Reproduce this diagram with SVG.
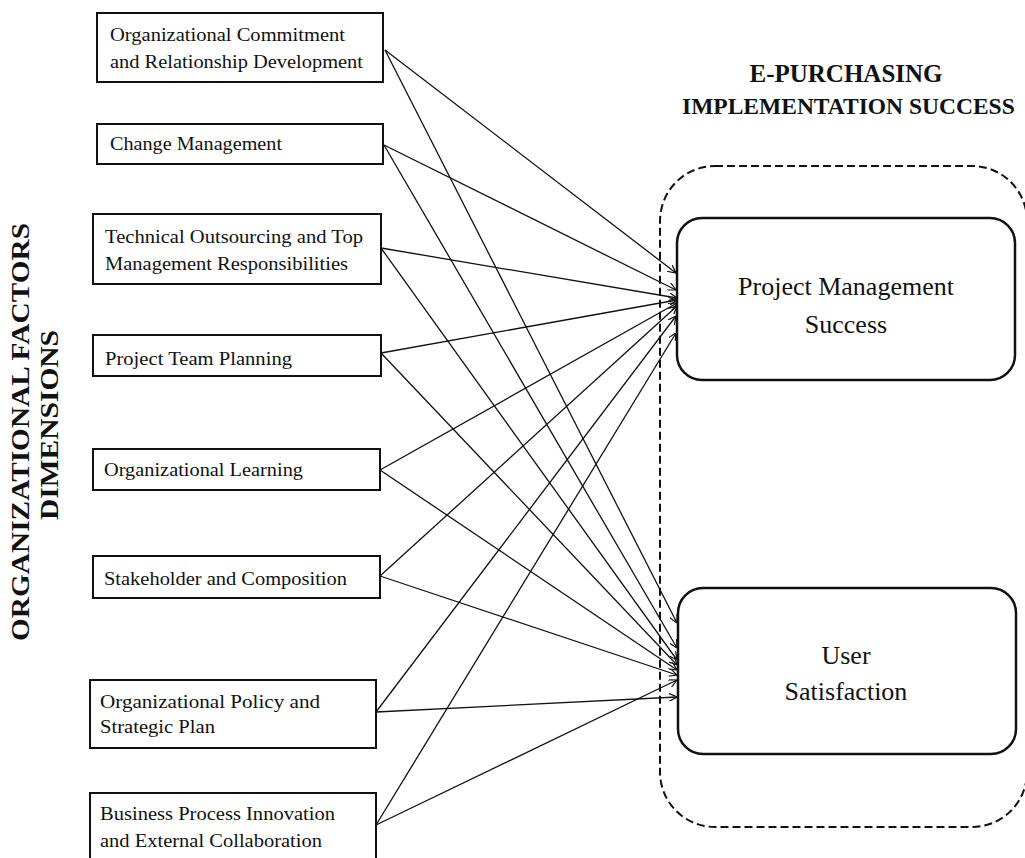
<svg xmlns="http://www.w3.org/2000/svg" width="1025" height="858" viewBox="0 0 1025 858">
  <style>
    .box { fill: #fff; stroke: #111; stroke-width: 2; }
    .lbl { font-family: "Liberation Serif", "Times New Roman", serif; font-size: 18px; fill: #111; }
    .big { font-family: "Liberation Serif", "Times New Roman", serif; font-size: 26px; fill: #111; }
    .head { font-family: "Liberation Serif", "Times New Roman", serif; font-size: 25px; font-weight: bold; fill: #111; }
    .head.tight { font-size: 23.5px; }
    .outcome { fill: #fff; stroke: #111; stroke-width: 2.5; }
    .frame { fill: none; stroke: #111; stroke-width: 2; stroke-dasharray: 8 4; }
    .link { stroke: #111; stroke-width: 1.3; fill: none; marker-end: url(#arrow); }
  </style>
  <defs>
    <marker id="arrow" viewBox="0 0 10 10" refX="10" refY="5" markerWidth="8" markerHeight="8" orient="auto" markerUnits="userSpaceOnUse">
      <path d="M0,0 L10,5 L0,10" fill="none" stroke="#111" stroke-width="1.5"/>
    </marker>
  </defs>
  <rect width="1025" height="858" fill="#fff"/>

  <!-- side headings -->
  <g id="title-left">
    <text class="head" transform="translate(29,432) rotate(-90)" text-anchor="middle" textLength="418" lengthAdjust="spacingAndGlyphs">ORGANIZATIONAL FACTORS</text>
    <text class="head" transform="translate(58,425) rotate(-90)" text-anchor="middle" textLength="190" lengthAdjust="spacingAndGlyphs">DIMENSIONS</text>
  </g>
  <g id="title-right">
    <text class="head" x="846" y="82" text-anchor="middle">E-PURCHASING</text>
    <text class="head tight" x="682" y="114">IMPLEMENTATION SUCCESS</text>
  </g>

  <!-- success container -->
  <g id="success-frame">
    <rect class="frame" x="660" y="166" width="367" height="661" rx="55" ry="55"/>
  </g>

  <!-- connectors -->
  <g id="connectors">
    <line class="link" x1="385" y1="50" x2="676" y2="273"/>
    <line class="link" x1="385" y1="50" x2="677" y2="623"/>
    <line class="link" x1="384" y1="145" x2="676" y2="290"/>
    <line class="link" x1="384" y1="145" x2="677" y2="648"/>
    <line class="link" x1="381" y1="248" x2="677" y2="298"/>
    <line class="link" x1="381" y1="248" x2="677" y2="660"/>
    <line class="link" x1="381" y1="353" x2="677" y2="300"/>
    <line class="link" x1="381" y1="353" x2="677" y2="665"/>
    <line class="link" x1="380" y1="470" x2="677" y2="303"/>
    <line class="link" x1="380" y1="470" x2="677" y2="670"/>
    <line class="link" x1="380" y1="576" x2="677" y2="306"/>
    <line class="link" x1="380" y1="576" x2="677" y2="675"/>
    <line class="link" x1="376" y1="712" x2="676" y2="316"/>
    <line class="link" x1="376" y1="712" x2="677" y2="697"/>
    <line class="link" x1="376" y1="825" x2="676" y2="333"/>
    <line class="link" x1="376" y1="825" x2="677" y2="680"/>
  </g>

  <!-- factor boxes -->
  <g id="f1">
    <rect class="box" x="97" y="13" width="286" height="69"/>
    <text class="lbl" x="110" y="41" textLength="235" lengthAdjust="spacingAndGlyphs">Organizational Commitment</text>
    <text class="lbl" x="110" y="68" textLength="253" lengthAdjust="spacingAndGlyphs">and Relationship Development</text>
  </g>
  <g id="f2">
    <rect class="box" x="97" y="124" width="286" height="40"/>
    <text class="lbl" x="110" y="150" textLength="172" lengthAdjust="spacingAndGlyphs">Change Management</text>
  </g>
  <g id="f3">
    <rect class="box" x="93" y="214" width="288" height="70"/>
    <text class="lbl" x="105" y="243" textLength="258" lengthAdjust="spacingAndGlyphs">Technical Outsourcing and Top</text>
    <text class="lbl" x="105" y="270" textLength="243" lengthAdjust="spacingAndGlyphs">Management Responsibilities</text>
  </g>
  <g id="f4">
    <rect class="box" x="93" y="335" width="288" height="41"/>
    <text class="lbl" x="105" y="365" textLength="187" lengthAdjust="spacingAndGlyphs">Project Team Planning</text>
  </g>
  <g id="f5">
    <rect class="box" x="93" y="449" width="287" height="41"/>
    <text class="lbl" x="104" y="476" textLength="199" lengthAdjust="spacingAndGlyphs">Organizational Learning</text>
  </g>
  <g id="f6">
    <rect class="box" x="93" y="556" width="287" height="42"/>
    <text class="lbl" x="104" y="585" textLength="243" lengthAdjust="spacingAndGlyphs">Stakeholder and Composition</text>
  </g>
  <g id="f7">
    <rect class="box" x="90" y="680" width="286" height="68"/>
    <text class="lbl" x="100" y="708" textLength="220" lengthAdjust="spacingAndGlyphs">Organizational Policy and</text>
    <text class="lbl" x="100" y="733" textLength="115" lengthAdjust="spacingAndGlyphs">Strategic Plan</text>
  </g>
  <g id="f8">
    <rect class="box" x="90" y="793" width="286" height="70"/>
    <text class="lbl" x="100" y="820" textLength="235" lengthAdjust="spacingAndGlyphs">Business Process Innovation</text>
    <text class="lbl" x="100" y="847" textLength="222" lengthAdjust="spacingAndGlyphs">and External Collaboration</text>
  </g>

  <!-- outcome boxes -->
  <g id="project-management-success">
    <rect class="outcome" x="677" y="218" width="338" height="162" rx="25" ry="25"/>
    <text class="big" x="846" y="295" text-anchor="middle">Project Management</text>
    <text class="big" x="846" y="333" text-anchor="middle">Success</text>
  </g>
  <g id="user-satisfaction">
    <rect class="outcome" x="678" y="588" width="338" height="166" rx="25" ry="25"/>
    <text class="big" x="846" y="664" text-anchor="middle">User</text>
    <text class="big" x="846" y="700" text-anchor="middle">Satisfaction</text>
  </g>
</svg>
